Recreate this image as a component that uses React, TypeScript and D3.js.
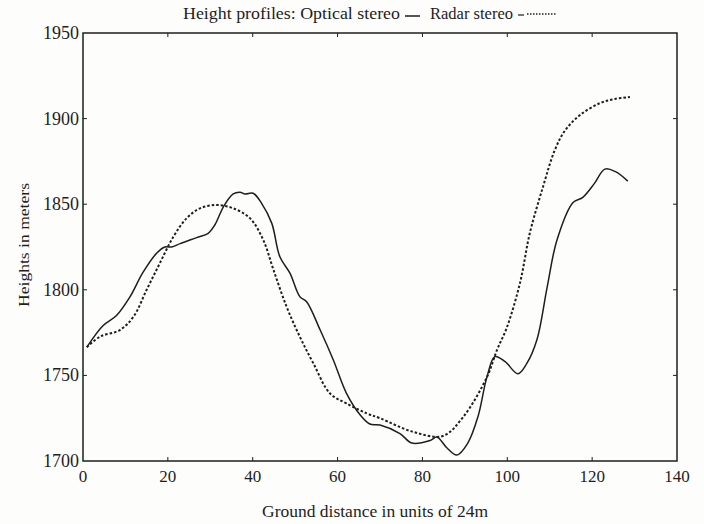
import React, { useEffect, useRef } from 'react';
import * as d3 from 'd3';

// Optical stereo (solid)
const opticalX = [0.9, 4.7, 7.9, 11.1, 14.1, 17.4, 19.3, 20.9, 22.9, 26.8, 29.5, 31.1, 33.1, 35.4, 37, 38.2, 40.1, 42.1, 44.5, 46.4, 48.8, 51.1, 52.7, 55.9, 59, 62.1, 65.3, 67.6, 70, 74.7, 77.5, 81.8, 83.4, 85.8, 88.1, 90.7, 93.1, 95.2, 97.1, 99.5, 102.5, 104.6, 107, 109.4, 111.7, 115.5, 117.8, 120.5, 123, 125.5, 128.4];
const opticalY = [1766.5, 1779, 1785, 1796, 1810, 1821.5, 1825, 1825, 1827, 1830.5, 1833, 1838, 1848.5, 1856, 1857, 1856, 1856.4, 1850.5, 1838.8, 1819.3, 1809.6, 1796, 1793, 1776.5, 1759, 1739.5, 1727, 1721.6, 1721, 1716, 1710.5, 1712, 1714, 1707.6, 1703.5, 1710.5, 1726, 1749, 1761, 1758, 1751, 1757, 1771, 1801.6, 1829, 1851, 1854, 1862, 1870.5, 1869, 1863.5];

// Radar stereo (dotted)
const radarX = [0.9, 4, 8.7, 11.9, 15, 18.1, 21.3, 24.4, 27.6, 31.5, 35.4, 39.4, 42.5, 44.9, 48, 51.1, 54.3, 58.2, 62.1, 66.9, 70, 77.8, 84.8, 89.6, 95.2, 97.6, 99.9, 103, 105.3, 108.4, 111.2, 113.6, 117.1, 121.8, 125.4, 128.9];
const radarY = [1766.5, 1772.6, 1776.5, 1784.3, 1800, 1815.5, 1831, 1841.7, 1847.6, 1849.5, 1847.6, 1841.7, 1829, 1811.6, 1790, 1772.6, 1757, 1739.5, 1733.6, 1727.8, 1725, 1717, 1714.6, 1725.7, 1749, 1765, 1778, 1804, 1833, 1860, 1881.6, 1893, 1902, 1909, 1911.5, 1912.6];

const xTicks = [0, 20, 40, 60, 80, 100, 120, 140];
const yTicks = [1700, 1750, 1800, 1850, 1900, 1950];

const W = 704;
const H = 524;
const font = '"Liberation Serif", "DejaVu Serif", serif';
const ink = '#1e1e1e';

export default function App() {
  const svgRef = useRef<SVGSVGElement>(null);

  useEffect(() => {
    if (!svgRef.current) return;
    const svg = d3.select(svgRef.current);
    svg.selectAll('*').remove();

    const left = 83, right = 677, top = 33, bottom = 461;

    const x = d3.scaleLinear().domain([0, 140]).range([left, right]);
    const y = d3.scaleLinear().domain([1700, 1950]).range([bottom, top]);

    svg.append('rect').attr('width', W).attr('height', H).attr('fill', '#fdfdfb');

    // frame
    svg.append('rect')
      .attr('x', left).attr('y', top)
      .attr('width', right - left).attr('height', bottom - top)
      .attr('fill', 'none').attr('stroke', ink).attr('stroke-width', 1.5);

    const tl = 4;
    // ticks on all four sides, pointing inward
    xTicks.slice(1, -1).forEach(t => {
      svg.append('line').attr('x1', x(t)).attr('x2', x(t)).attr('y1', bottom).attr('y2', bottom - tl)
        .attr('stroke', ink).attr('stroke-width', 1);
      svg.append('line').attr('x1', x(t)).attr('x2', x(t)).attr('y1', top).attr('y2', top + tl)
        .attr('stroke', ink).attr('stroke-width', 1);
    });
    yTicks.slice(1, -1).forEach(t => {
      svg.append('line').attr('x1', left).attr('x2', left + tl).attr('y1', y(t)).attr('y2', y(t))
        .attr('stroke', ink).attr('stroke-width', 1);
      svg.append('line').attr('x1', right).attr('x2', right - tl).attr('y1', y(t)).attr('y2', y(t))
        .attr('stroke', ink).attr('stroke-width', 1);
    });

    // tick labels
    svg.append('g').selectAll('text').data(xTicks).enter().append('text')
      .attr('x', d => x(d)).attr('y', bottom + 21)
      .attr('text-anchor', 'middle')
      .attr('font-family', font).attr('font-size', 17).attr('fill', ink)
      .text(d => d);

    svg.append('g').selectAll('text').data(yTicks).enter().append('text')
      .attr('x', left - 4).attr('y', d => y(d) + 6)
      .attr('text-anchor', 'end')
      .attr('font-family', font).attr('font-size', 18).attr('fill', ink)
      .text(d => d);

    // lines
    const optical = opticalX.map((v, i) => [v, opticalY[i]] as [number, number]);
    const radar = radarX.map((v, i) => [v, radarY[i]] as [number, number]);
    const line = d3.line<[number, number]>()
      .x(d => x(d[0])).y(d => y(d[1]))
      .curve(d3.curveCatmullRom.alpha(0.5));

    svg.append('path').datum(radar)
      .attr('fill', 'none').attr('stroke', ink).attr('stroke-width', 2)
      .attr('stroke-dasharray', '2.5,2')
      .attr('d', line);

    svg.append('path').datum(optical)
      .attr('fill', 'none').attr('stroke', ink).attr('stroke-width', 1.5)
      .attr('d', line);

    // title with inline legend
    const ty = 19;
    svg.append('text').attr('x', 183).attr('y', ty)
      .attr('font-family', font).attr('font-size', 16).attr('fill', ink)
      .attr('textLength', 217).attr('lengthAdjust', 'spacingAndGlyphs')
      .text('Height profiles: Optical stereo');
    svg.append('line').attr('x1', 405).attr('x2', 420).attr('y1', ty - 3).attr('y2', ty - 3)
      .attr('stroke', ink).attr('stroke-width', 1.5);
    svg.append('text').attr('x', 430).attr('y', ty)
      .attr('font-family', font).attr('font-size', 16).attr('fill', ink)
      .attr('textLength', 83).attr('lengthAdjust', 'spacingAndGlyphs')
      .text('Radar stereo');
    svg.append('line').attr('x1', 518).attr('x2', 524).attr('y1', ty - 4).attr('y2', ty - 4)
      .attr('stroke', ink).attr('stroke-width', 1.2);
    svg.append('line').attr('x1', 527).attr('x2', 557).attr('y1', ty - 5).attr('y2', ty - 5)
      .attr('stroke', ink).attr('stroke-width', 1.3).attr('stroke-dasharray', '1.5,1.5');

    // axis titles
    svg.append('text').attr('x', 262).attr('y', 517)
      .attr('font-family', font).attr('font-size', 17).attr('fill', ink)
      .attr('textLength', 226).attr('lengthAdjust', 'spacingAndGlyphs')
      .text('Ground distance in units of 24m');

    svg.append('text')
      .attr('transform', `translate(29,307) rotate(-90)`)
      .attr('font-family', font).attr('font-size', 15).attr('fill', ink)
      .attr('textLength', 124).attr('lengthAdjust', 'spacingAndGlyphs')
      .text('Heights in meters');
  }, []);

  return (
    <svg ref={svgRef} width={W} height={H}
      style={{ position: 'absolute', left: 0, top: 0, display: 'block' }} />
  );
}
